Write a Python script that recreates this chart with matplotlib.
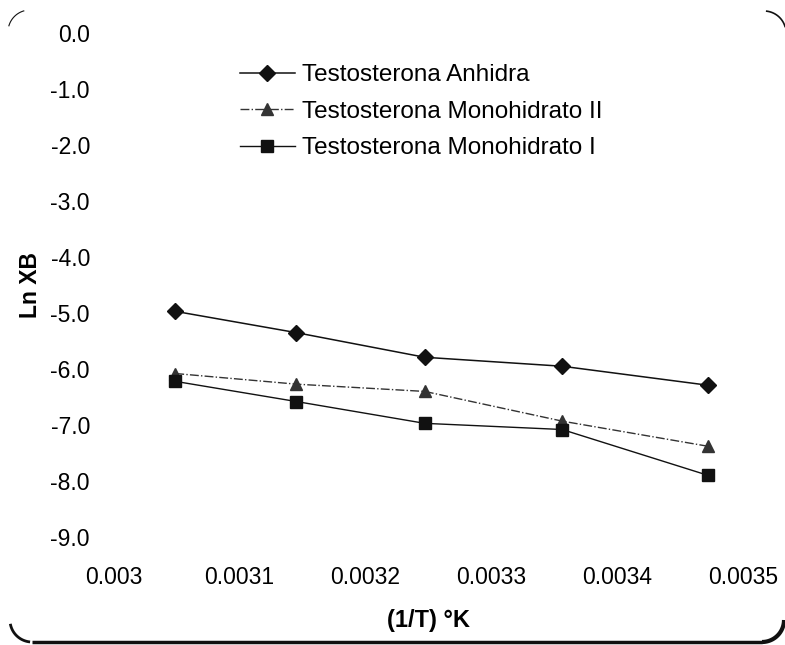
import matplotlib
matplotlib.use("Agg")
import matplotlib.pyplot as plt
import numpy as np

plt.rcParams['font.family'] = ['Liberation Sans', 'DejaVu Sans']

# 1/T values (K^-1) and Ln XB for each form
inv_t = [0.003049, 0.003145, 0.003247, 0.003356, 0.003472]
anhidra = [-4.97, -5.35, -5.79, -5.95, -6.29]
mono_ii = [-6.08, -6.27, -6.40, -6.93, -7.38]
mono_i = [-6.22, -6.58, -6.97, -7.08, -7.90]

labels = ["Testosterona Anhidra", "Testosterona Monohidrato II", "Testosterona Monohidrato I"]
x_ticks = [0.003, 0.0031, 0.0032, 0.0033, 0.0034, 0.0035]
x_tick_labels = ["0.003", "0.0031", "0.0032", "0.0033", "0.0034", "0.0035"]
y_ticks = [0, -1, -2, -3, -4, -5, -6, -7, -8, -9]
y_tick_labels = ["0.0", "-1.0", "-2.0", "-3.0", "-4.0", "-5.0", "-6.0", "-7.0", "-8.0", "-9.0"]

W, H = 785, 645
fig = plt.figure(figsize=(W / 100, H / 100), dpi=100)
ax = fig.add_axes([0.1446, 0.1674, 0.8026, 0.7814])

ax.plot(inv_t, anhidra, color="#111111", lw=1.1, marker="D", ms=8, label=labels[0])
ax.plot(inv_t, mono_ii, color="#333333", lw=1.0, ls="-.", marker="^", ms=9, label=labels[1])
ax.plot(inv_t, mono_i, color="#111111", lw=1.0, marker="s", ms=8, label=labels[2])

ax.set_xlim(0.003, 0.0035)
ax.set_ylim(-9, 0)
ax.set_xticks(x_ticks)
ax.set_xticklabels(x_tick_labels)
ax.set_yticks(y_ticks)
ax.set_yticklabels(y_tick_labels)
ax.tick_params(axis="x", length=0, pad=21, labelsize=16.5)
ax.tick_params(axis="y", length=0, pad=17, labelsize=16.5)
for s in ax.spines.values():
    s.set_visible(False)

ax.set_xlabel("(1/T) °K", fontsize=17, fontweight="bold", labelpad=14)
ax.set_ylabel("Ln XB", fontsize=16.5, fontweight="bold", labelpad=6)

ax.legend(loc="upper left", bbox_to_anchor=(0.2008, 0.938), frameon=False, fontsize=17.5,
          handlelength=2.25, handletextpad=0.3, labelspacing=0.6, borderpad=0, borderaxespad=0)


# remains of the rounded frame (scan shows mostly the bottom edge)
def arc(cx, cy, r, t0, t1):
    t = np.radians(np.linspace(t0, t1, 30))
    return (cx + r * np.cos(t)) / W, 1 - (cy + r * np.sin(t)) / H


def seg(xs, ys, lw):
    fig.add_artist(plt.Line2D(xs, ys, color="#111111", lw=lw, transform=fig.transFigure,
                              solid_capstyle="butt"))


seg(*arc(32, 620, 22, 95, 170), 2.0)
seg([32 / W, 762 / W], [1 - 642 / H, 1 - 642 / H], 2.5)
seg(*arc(762, 620, 22, 0, 90), 3.0)
seg(*arc(764, 33, 22, 275, 345), 1.2)
seg(*arc(30, 32, 22, 195, 255), 0.8)

fig.savefig("out.png", dpi=100)
